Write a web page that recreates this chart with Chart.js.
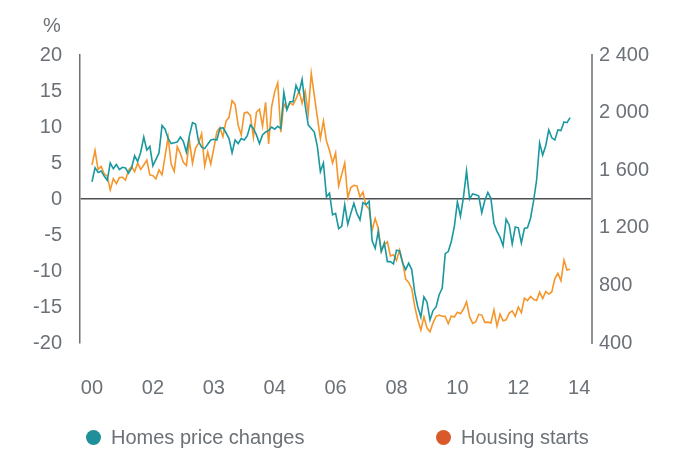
<!DOCTYPE html>
<html>
<head>
<meta charset="utf-8">
<script src="https://cdn.jsdelivr.net/npm/chart.js@4.4.1/dist/chart.umd.min.js"></script>
<style>
  body { margin: 0; background: #fff; }
  #wrap { position: relative; width: 679px; height: 450px; font-family: "Liberation Sans", Arial, sans-serif; color: #6b7177; }
  #pct { position: absolute; left: 43px; top: 14px; font-size: 20px; line-height: 22px; }
  .leg { position: absolute; top: 426px; font-size: 20px; line-height: 22px; white-space: nowrap; }
  .leg i { display: inline-block; width: 15px; height: 15px; border-radius: 50%; vertical-align: -1px; margin-right: 10px; }
</style>
</head>
<body>
<div id="wrap">
  <canvas id="chart" width="679" height="450"></canvas>
  <div id="pct">%</div>
  <div class="leg" style="left:86px"><i style="background:#1f8f9a"></i>Homes price changes</div>
  <div class="leg" style="left:436px"><i style="background:#d9592b"></i>Housing starts</div>
</div>
<script>
// monthly, Jan 2000 .. Feb 2013
const homePrices = [
    2.4, 4.35, 3.7, 3.9, 3.2, 2.6, 5.0, 4.2, 4.8, 4.1, 4.4, 4.3,
    3.6, 4.3, 6.0, 5.2, 6.5, 8.6, 6.8, 7.3, 4.6, 5.5, 6.4, 10.2,
    9.7, 8.4, 7.7, 7.8, 7.9, 8.6, 8.0, 6.5, 8.8, 10.6, 10.4, 8.0,
    7.2, 7.0, 7.6, 8.2, 8.3, 8.2, 9.8, 9.9, 9.2, 8.4, 6.4, 8.2,
    7.7, 8.4, 8.2, 8.8, 10.3, 9.8, 8.9, 7.7, 8.9, 9.3, 9.5, 10.0,
    9.7, 10.1, 9.8, 14.8, 12.4, 13.5, 13.5, 15.8, 14.8, 16.6, 13.0, 10.3,
    9.8, 9.3, 7.3, 3.8, 5.0, 0.3, 0.8, -2.2, -2.0, -4.1, -3.8, -0.8,
    -3.5, -2.0, -0.6, -2.0, -2.9, -0.5, -0.8, -0.3, -5.8, -6.85, -4.5, -7.3,
    -6.1, -8.7, -8.7, -9.0, -7.1, -7.2, -8.9, -9.8, -8.9, -9.8, -13.0, -15.0,
    -16.4, -13.6, -14.3, -16.8, -15.5, -15.0, -13.3, -12.4, -7.6, -7.3, -5.9, -3.8,
    -0.4, -2.4, 0.3, 3.9, 0.0, 0.7, 0.6, 0.4, -1.9, -0.2, 0.9, 0.1,
    -3.4, -4.5, -5.3, -6.5, -2.8, -3.6, -6.25, -3.9, -4.0, -6.1, -4.1, -4.0,
    -2.7, -0.3, 2.6, 7.8, 6.1, 7.4, 9.6, 8.5, 8.2, 9.6, 9.5, 10.7,
    10.6, 11.3
];

const housingStarts = [
    1636, 1737, 1604, 1626, 1575, 1559, 1463, 1541, 1507, 1549, 1551, 1532,
    1600, 1625, 1590, 1649, 1605, 1636, 1670, 1567, 1562, 1540, 1602, 1568,
    1698, 1829, 1642, 1592, 1764, 1717, 1655, 1633, 1804, 1648, 1753, 1788,
    1853, 1629, 1726, 1643, 1751, 1867, 1897, 1833, 1939, 1967, 2083, 2057,
    1911, 1846, 1998, 2003, 1981, 1828, 2002, 2024, 1905, 2072, 1782, 2042,
    2144, 2207, 1864, 2061, 2025, 2068, 2054, 2095, 2151, 2065, 2147, 1994,
    2273, 2119, 1969, 1821, 1942, 1802, 1737, 1650, 1720, 1491, 1570, 1649,
    1409, 1480, 1495, 1490, 1415, 1448, 1354, 1330, 1183, 1264, 1197, 1037,
    1084, 1103, 1005, 1013, 973, 1046, 965, 844, 820, 777, 652, 560,
    490, 582, 505, 478, 540, 585, 594, 586, 585, 534, 588, 581,
    614, 604, 636, 687, 583, 536, 546, 599, 594, 543, 545, 539,
    630, 517, 600, 554, 561, 608, 623, 585, 650, 610, 711, 694,
    723, 704, 695, 753, 708, 757, 740, 754, 847, 884, 833, 976,
    907, 912
];

const xTickMonths = [0, 20, 40, 60, 80, 100, 120, 140, 160];
const xTickLabels = ['00', '02', '03', '04', '06', '08', '10', '12', '14'];
const pctTicks = [-20, -15, -10, -5, 0, 5, 10, 15, 20];
const startsTicks = [400, 800, 1200, 1600, 2000, 2400];

const textColor = '#6b7177';
const tickFont = { family: "'Liberation Sans', Arial, sans-serif", size: 20 };

const toPoints = arr => arr.map((v, i) => ({ x: i, y: v }));
const setTicks = list => scale => { scale.ticks = list.map(v => ({ value: v })); };
const spaced = v => String(v).replace(/\B(?=(\d{3})+(?!\d))/g, ' ');

new Chart(document.getElementById('chart'), {
    type: 'line',
    data: {
        datasets: [{
            label: 'Homes price changes',
            data: toPoints(homePrices),
            yAxisID: 'y',
            borderColor: '#1a989f',
            borderWidth: 1.6,
            pointRadius: 0,
            tension: 0
        }, {
            label: 'Housing starts',
            data: toPoints(housingStarts),
            yAxisID: 'y1',
            borderColor: '#f5962b',
            borderWidth: 1.6,
            pointRadius: 0,
            tension: 0
        }]
    },
    options: {
        responsive: false,
        animation: false,
        layout: { padding: { top: 55, right: 0, bottom: 0, left: 0 } },
        plugins: { legend: { display: false }, tooltip: { enabled: false } },
        scales: {
            x: {
                type: 'linear',
                min: -3.94,
                max: 164.2,
                afterBuildTicks: setTicks(xTickMonths),
                afterFit: s => { s.height = 107; },
                ticks: {
                    callback: (v, i) => xTickLabels[i],
                    color: textColor, font: tickFont, padding: 33,
                    maxRotation: 0, autoSkip: false
                },
                grid: { display: false, drawTicks: false },
                border: { display: false }
            },
            y: {
                position: 'left',
                min: -20,
                max: 20,
                afterBuildTicks: setTicks(pctTicks),
                afterFit: s => { s.width = 80; },
                ticks: { color: textColor, font: tickFont, padding: 18 },
                grid: {
                    drawTicks: false,
                    lineWidth: 1.5,
                    color: ctx => (ctx.tick && ctx.tick.value === 0) ? '#4d4f52' : 'rgba(0,0,0,0)'
                },
                border: { color: '#6d7175', width: 1.5 }
            },
            y1: {
                position: 'right',
                min: 400,
                max: 2400,
                afterBuildTicks: setTicks(startsTicks),
                afterFit: s => { s.width = 87; },
                ticks: { color: textColor, font: tickFont, padding: 7, callback: v => spaced(v) },
                grid: { display: false, drawTicks: false },
                border: { color: '#8e9398', width: 2 }
            }
        }
    }
});
</script>
</body>
</html>
